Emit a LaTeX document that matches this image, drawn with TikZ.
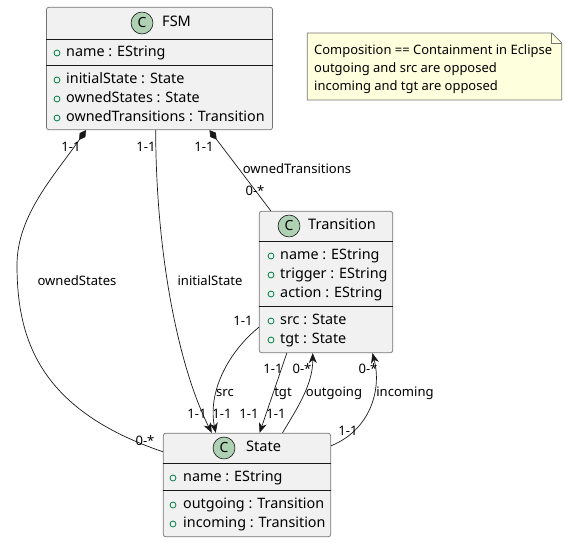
\documentclass[tikz,border=0pt]{standalone}
\usepackage{fontspec}
\setmainfont{Noto Sans}
\usetikzlibrary{arrows.meta}
\definecolor{boxfill}{HTML}{F1F1F1}
\definecolor{boxline}{HTML}{181818}
\definecolor{headfill}{HTML}{ADD1B2}
\definecolor{pubgreen}{HTML}{038048}
\definecolor{notefill}{HTML}{FEFFDD}

\begin{document}
\begin{tikzpicture}[x=1bp, y=-1bp,
    classbox/.style={draw=boxline!60, fill=boxfill, rounded corners=2.5, line width=0.7, inner sep=0},
    sepline/.style={draw=boxline, line width=0.8},
    cmark/.style={circle, draw=boxline, fill=headfill, line width=0.6, minimum size=22, inner sep=0, font=\fontsize{14}{14}\selectfont\bfseries},
    cname/.style={anchor=west, inner sep=0, text height=10, text depth=3, font=\fontsize{14.6}{16}\selectfont},
    member/.style={anchor=west, inner sep=0, text height=10, text depth=3, font=\fontsize{14.4}{16}\selectfont},
    pub/.style={circle, draw=pubgreen, line width=0.8, minimum size=6, inner sep=0},
    role/.style={inner sep=0, text height=9, text depth=3, font=\fontsize{13.1}{14}\selectfont},
    link/.style={draw=boxline, line width=0.7},
    comp/.style={{Diamond[length=12, width=7]}-},
    nav/.style={-{Stealth[length=10, width=8, inset=3]}}
]
    \useasboundingbox (0,0) rectangle (567,543);

    % FSM
    \node[classbox, minimum width=227, minimum height=123] (fsm) at (159.5,68.5) {};
    \draw[sepline] ([yshift=-33]fsm.north west) -- ([yshift=-33]fsm.north east);
    \draw[sepline] ([yshift=-59]fsm.north west) -- ([yshift=-59]fsm.north east);
    \node[cmark] (fsmC) at (142,23) {C};
    \node[cname] (fsmName) at (162,23) {FSM};
    \node[pub] (fsmP1) at (57,53) {};
    \node[member] (fsmA1) at (66,53) {name : EString};
    \node[pub] (fsmP2) at (57,80) {};
    \node[member] (fsmA2) at (66,80) {initialState : State};
    \node[pub] (fsmP3) at (57,99) {};
    \node[member] (fsmA3) at (66,99) {ownedStates : State};
    \node[pub] (fsmP4) at (57,118) {};
    \node[member] (fsmA4) at (66,118) {ownedTransitions : Transition};

    % Transition
    \node[classbox, minimum width=134, minimum height=142] (transition) at (326,282) {};
    \draw[sepline] ([yshift=-31]transition.north west) -- ([yshift=-31]transition.north east);
    \draw[sepline] ([yshift=-96]transition.north west) -- ([yshift=-96]transition.north east);
    \node[cmark] (transitionC) at (289,226) {C};
    \node[cname] (transitionName) at (308,226) {Transition};
    \node[pub] (transitionP1) at (271,256) {};
    \node[member] (transitionA1) at (280,256) {name : EString};
    \node[pub] (transitionP2) at (271,275) {};
    \node[member] (transitionA2) at (280,275) {trigger : EString};
    \node[pub] (transitionP3) at (271,294) {};
    \node[member] (transitionA3) at (280,294) {action : EString};
    \node[pub] (transitionP4) at (271,321) {};
    \node[member] (transitionA4) at (280,321) {src : State};
    \node[pub] (transitionP5) at (271,340) {};
    \node[member] (transitionA5) at (280,340) {tgt : State};

    % State
    \node[classbox, minimum width=168, minimum height=104] (state) at (247,485) {};
    \draw[sepline] ([yshift=-31]state.north west) -- ([yshift=-31]state.north east);
    \draw[sepline] ([yshift=-58]state.north west) -- ([yshift=-58]state.north east);
    \node[cmark] (stateC) at (224,448) {C};
    \node[cname] (stateName) at (246,448) {State};
    \node[pub] (stateP1) at (173,478) {};
    \node[member] (stateA1) at (183,478) {name : EString};
    \node[pub] (stateP2) at (173,505) {};
    \node[member] (stateA2) at (183,505) {outgoing : Transition};
    \node[pub] (stateP3) at (173,524) {};
    \node[member] (stateA3) at (183,524) {incoming : Transition};

    % Note
    \node[minimum width=255, minimum height=67, inner sep=0] (note) at (434.5,66.5) {};
    \draw[fill=notefill, draw=boxline!60, line width=0.7] (note.north west) -- ([xshift=-10]note.north east)
        -- ([yshift=-10]note.north east) -- (note.south east) -- (note.south west) -- cycle;
    \draw[draw=boxline!60, line width=0.7] ([xshift=-10]note.north east) -- ++(0,10) -- ++(10,0);
    \node[anchor=west, align=left, inner sep=0, font=\fontsize{13}{18}\selectfont] (noteText) at (314,69)
        {Composition == Containment in Eclipse\\outgoing and src are opposed\\incoming and tgt are opposed};

    % Links
    \draw[link, comp] ([xshift=40]fsm.south west) .. controls (55,175) and (17,215) .. (17,265)
        .. controls (17,340) and (40,410) .. ([yshift=-19]state.north west);
    \draw[link, nav] ([xshift=110]fsm.south west) .. controls (156,260) and (180,370) .. ([xshift=49]state.north west);
    \draw[link, comp] ([xshift=164]fsm.south west) -- ([xshift=12]transition.north west);
    \draw[link, nav] ([yshift=26]transition.south west) .. controls (225,355) and (208,395) .. ([xshift=53]state.north west);
    \draw[link, nav] ([xshift=28]transition.south west) -- ([xshift=97]state.north west);
    \draw[link, nav] ([xshift=120]state.north west) .. controls (296,410) and (313,385) .. ([xshift=54]transition.south west);
    \draw[link, nav] ([yshift=-13]state.north east) .. controls (370,430) and (382,390) .. ([xshift=114]transition.south west);

    % Link labels
    \node[role] (osFrom) at (71,149) {1-1};
    \node[role] (isFrom) at (146,149) {1-1};
    \node[role] (otFrom) at (204,149) {1-1};
    \node[role] (otName) at (297,171) {ownedTransitions};
    \node[role] (otTo) at (255,193) {0-*};
    \node[role] (osName) at (77,283) {ownedStates};
    \node[role] (isName) at (210,283) {initialState};
    \node[role] (srcFrom) at (243,323) {1-1};
    \node[role] (tgtFrom) at (273,371) {1-1};
    \node[role] (outTo) at (302,371) {0-*};
    \node[role] (inTo) at (368,371) {0-*};
    \node[role] (srcName) at (225,394) {src};
    \node[role] (tgtName) at (283,394) {tgt};
    \node[role] (outName) at (334,394) {outgoing};
    \node[role] (inName) at (405,394) {incoming};
    \node[role] (isTo) at (197,416) {1-1};
    \node[role] (srcTo) at (222,416) {1-1};
    \node[role] (tgtTo) at (249,416) {1-1};
    \node[role] (outFrom) at (276,416) {1-1};
    \node[role] (inFrom) at (348,433) {1-1};
    \node[role] (osTo) at (145,443) {0-*};

\end{tikzpicture}
\end{document}
